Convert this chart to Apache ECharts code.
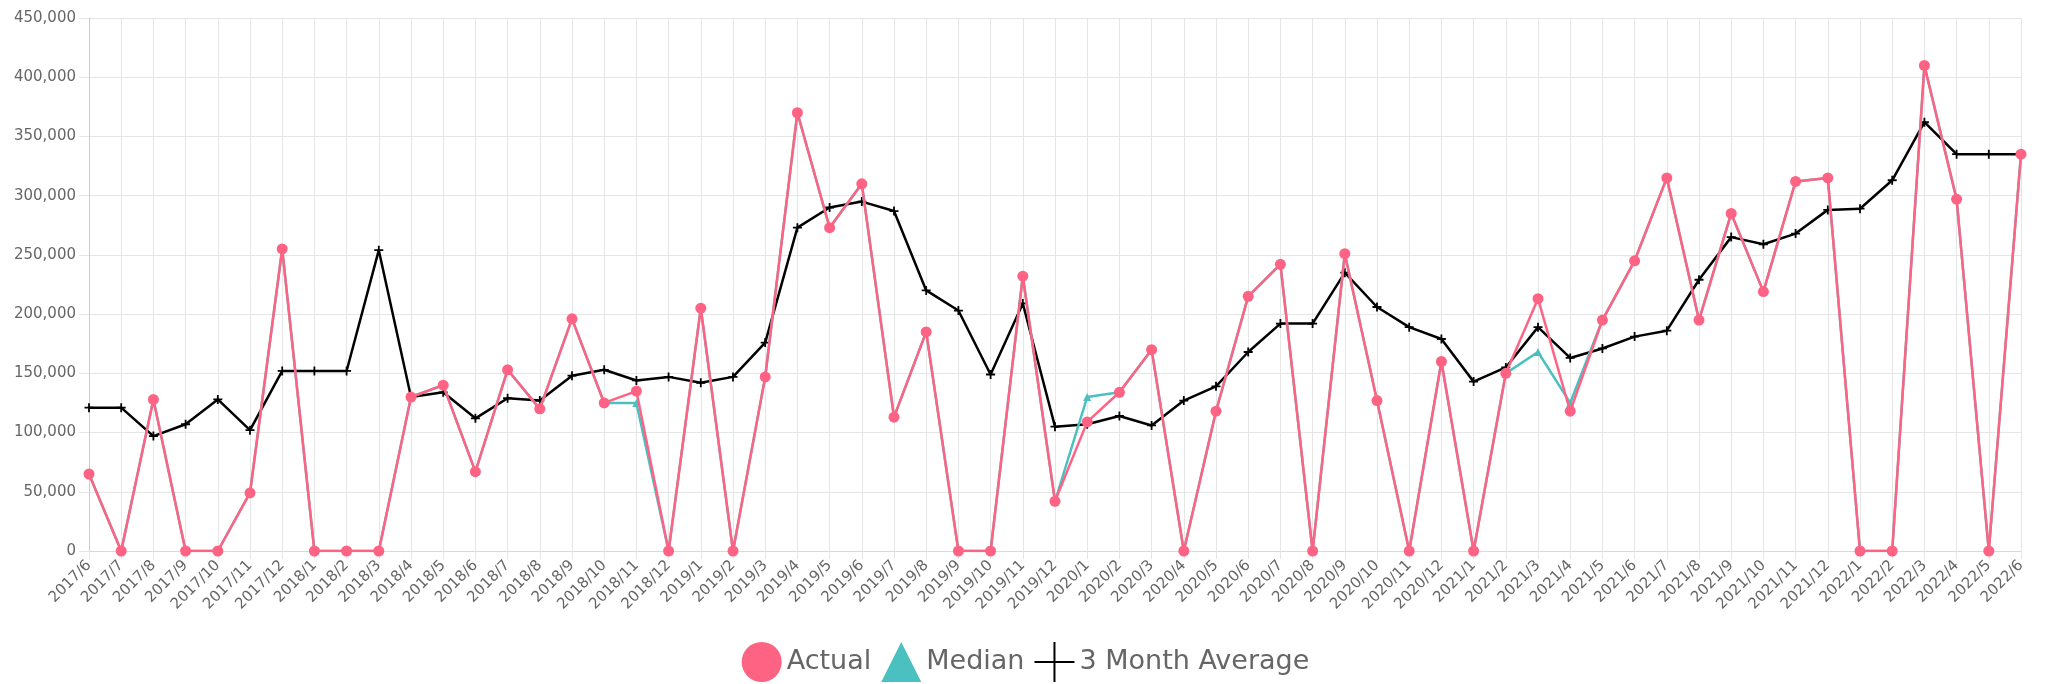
<!DOCTYPE html>
<html>
<head>
<meta charset="utf-8">
<script src="https://cdn.jsdelivr.net/npm/echarts@6/dist/echarts.min.js"></script>
<style>
  html, body { margin: 0; padding: 0; background: #fff; }
  #chart { width: 2051px; height: 684px; }
</style>
</head>
<body>
<div id="chart"></div>
<script>
// months on the x axis
var months = [
  '2017/6','2017/7','2017/8','2017/9','2017/10','2017/11','2017/12',
  '2018/1','2018/2','2018/3','2018/4','2018/5','2018/6','2018/7','2018/8','2018/9','2018/10','2018/11','2018/12',
  '2019/1','2019/2','2019/3','2019/4','2019/5','2019/6','2019/7','2019/8','2019/9','2019/10','2019/11','2019/12',
  '2020/1','2020/2','2020/3','2020/4','2020/5','2020/6','2020/7','2020/8','2020/9','2020/10','2020/11','2020/12',
  '2021/1','2021/2','2021/3','2021/4','2021/5','2021/6','2021/7','2021/8','2021/9','2021/10','2021/11','2021/12',
  '2022/1','2022/2','2022/3','2022/4','2022/5','2022/6'
];

var actual = [
  65000, 0, 128000, 0, 0, 49000, 255000,
  0, 0, 0, 130000, 140000, 67000, 153000, 120000, 196000, 125000, 135000, 0,
  205000, 0, 147000, 370000, 273000, 310000, 113000, 185000, 0, 0, 232000, 42000,
  109000, 134000, 170000, 0, 118000, 215000, 242000, 0, 251000, 127000, 0, 160000,
  0, 150000, 213000, 118000, 195000, 245000, 315000, 195000, 285000, 219000, 312000, 315000,
  0, 0, 410000, 297000, 0, 335000
];

var median = [
  65000, 0, 128000, 0, 0, 49000, 255000,
  0, 0, 0, 130000, 140000, 67000, 153000, 120000, 196000, 125000, 125000, 0,
  205000, 0, 147000, 370000, 273000, 310000, 113000, 185000, 0, 0, 232000, 42000,
  130000, 134000, 170000, 0, 118000, 215000, 242000, 0, 251000, 127000, 0, 160000,
  0, 150000, 168000, 125000, 195000, 245000, 315000, 195000, 285000, 219000, 312000, 315000,
  0, 0, 410000, 297000, 0, 335000
];

var avg3 = [
  121000, 121000, 97000, 107000, 128000, 102000, 152000,
  152000, 152000, 254000, 130000, 134000, 112000, 129000, 127000, 148000, 153000, 144000, 147000,
  142000, 147000, 176000, 273000, 290000, 295000, 287000, 220000, 203000, 149000, 209000, 105000,
  107000, 114000, 106000, 127000, 139000, 168000, 192000, 192000, 235000, 206000, 189000, 179000,
  143000, 155000, 189000, 163000, 171000, 181000, 186000, 229000, 265000, 259000, 268000, 288000,
  289000, 313000, 362000, 335000, 335000, 335000
];

var PINK = '#ff6384';
var TEAL = '#4bc0c0';
var plusSmall = 'path://M4,0H6V4H10V6H6V10H4V6H0V4H4Z';
var plusLegend = 'path://M19,0H21V19H40V21H21V40H19V21H0V19H19Z';

var chart = echarts.init(document.getElementById('chart'));
chart.setOption({
  animation: false,
  textStyle: { fontFamily: 'DejaVu Sans' },
  grid: { left: 89, right: 30, top: 18, bottom: 133 },
  legend: {
    top: 637,
    left: 'center',
    itemWidth: 40,
    itemHeight: 40,
    itemGap: 10,
    textStyle: { fontSize: 27, color: '#666', fontFamily: 'DejaVu Sans' },
    data: [
      { name: 'Actual', icon: 'circle' },
      { name: 'Median', icon: 'triangle' },
      { name: '3 Month Average', icon: plusLegend, itemStyle: { color: '#000' } }
    ]
  },
  xAxis: {
    type: 'category',
    data: months,
    boundaryGap: false,
    axisLine: { lineStyle: { color: '#d9d9d9' } },
    axisTick: { show: true, length: 8, lineStyle: { color: '#e6e6e6' } },
    splitLine: { show: true, lineStyle: { color: '#e6e6e6' } },
    axisLabel: { rotate: 45, interval: 0, fontSize: 15, color: '#666', margin: 12 }
  },
  yAxis: {
    type: 'value',
    min: 0,
    max: 450000,
    interval: 50000,
    axisLine: { show: true, lineStyle: { color: '#cccccc' } },
    axisTick: { show: true, length: 10, lineStyle: { color: '#e6e6e6' } },
    splitLine: { lineStyle: { color: '#e6e6e6' } },
    axisLabel: {
      fontSize: 15, color: '#666', margin: 13,
      formatter: function (v) { return v.toLocaleString('en-US'); }
    }
  },
  series: [
    {
      name: 'Actual', type: 'line', data: actual, z: 4,
      symbol: 'circle', symbolSize: 11, showAllSymbol: true,
      itemStyle: { color: PINK },
      lineStyle: { color: PINK, width: 2.5 }
    },
    {
      name: 'Median', type: 'line', data: median, z: 3,
      symbol: 'triangle', symbolSize: 8, showAllSymbol: true,
      itemStyle: { color: TEAL },
      lineStyle: { color: TEAL, width: 2.5 }
    },
    {
      name: '3 Month Average', type: 'line', data: avg3, z: 2,
      symbol: plusSmall, symbolSize: 9, showAllSymbol: true,
      itemStyle: { color: '#000' },
      lineStyle: { color: '#000', width: 2.5 }
    }
  ]
});
</script>
</body>
</html>
